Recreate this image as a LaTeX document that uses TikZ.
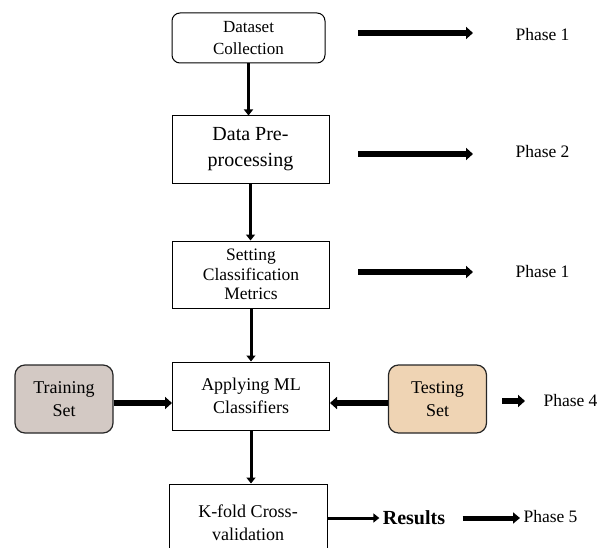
\documentclass[tikz,border=0pt]{standalone}
\usepackage{fontspec}
\setmainfont{Liberation Serif}
\usetikzlibrary{arrows.meta}
\usetikzlibrary{positioning}
\definecolor{trainfill}{RGB}{211,201,196}
\definecolor{testfill}{RGB}{239,212,180}
\tikzset{
  stepbox/.style={draw, line width=1pt, align=center, minimum width=157pt, minimum height=67pt},
  setbox/.style={draw=black!85, line width=1.2pt, rounded corners=10pt, align=center, minimum width=98pt, minimum height=68pt, font=\fontsize{18}{23}\selectfont},
  flow/.style={line width=3pt, -{Triangle[length=6pt,width=9pt]}},
  bigflow/.style={line width=6pt, -{Triangle[length=7pt,width=12pt]}},
  phase/.style={anchor=west, font=\fontsize{17.5}{20}\selectfont}
}
\begin{document}
\begin{tikzpicture}[x=1pt,y=-1pt]
          \useasboundingbox (0,0) rectangle (607,548);

          % process column
          \node[stepbox, rounded corners=8pt, minimum width=153pt, minimum height=50pt, font=\fontsize{17}{22}\selectfont] (collect) at (248.5,38) {Dataset\\Collection};
          \node[stepbox, font=\fontsize{20}{26}\selectfont] (prep) at (250.5,149.5) {Data Pre-\\processing};
          \node[stepbox, font=\fontsize{17.5}{19.5}\selectfont] (metrics) at (251,274.5) {Setting\\Classification\\Metrics};
          \node[stepbox, minimum height=68pt, font=\fontsize{18}{23}\selectfont] (apply) at (251,396) {Applying ML\\Classifiers};
          \node[stepbox, minimum width=158pt, minimum height=78pt, font=\fontsize{18}{23}\selectfont] (kfold) at (248,523) {K-fold Cross-\\validation};

          \draw[flow] (collect.south) -- (collect.south |- prep.north);
          \draw[flow] (prep.south) -- (prep.south |- metrics.north);
          \draw[flow] (metrics.south) -- (metrics.south |- apply.north);
          \draw[flow] (apply.south) -- (apply.south |- kfold.north);

          % data sets
          \node[setbox, fill=trainfill] (train) at (64,399) {Training\\Set};
          \node[setbox, fill=testfill] (test) at (437.5,399) {Testing\\Set};
          \draw[bigflow] ([yshift=-4pt]train.east) -- ([yshift=-4pt]train.east -| apply.west);
          \draw[bigflow] ([yshift=-4pt]test.west) -- ([yshift=-4pt]test.west -| apply.east);

          % phases
          \node[phase] (ph1) at (512,35) {Phase 1};
          \node[phase] (ph2) at (512,152) {Phase 2};
          \node[phase] (ph3) at (512,272) {Phase 1};
          \node[phase] (ph4) at (540,401) {Phase 4};
          \coordinate (s1) at (358,33);
          \coordinate (e1) at (473,33);
          \coordinate (s2) at (358,154);
          \coordinate (e2) at (473,154);
          \coordinate (s3) at (358,272);
          \coordinate (e3) at (473,272);
          \coordinate (s4) at (502,401);
          \coordinate (e4) at (525,401);
          \draw[bigflow] (s1) -- (e1);
          \draw[bigflow] (s2) -- (e2);
          \draw[bigflow] (s3) -- (e3);
          \draw[bigflow] (s4) -- (e4);

          \node[font=\bfseries\fontsize{20}{24}\selectfont] (results) at (414,518) {Results};
          \node[phase] (ph5) at (520,517) {Phase 5};
          \draw[flow] (kfold.east |- results.west) -- (results.west);
          \coordinate (r5) at ([xshift=14pt]results.east);
          \draw[line width=5pt, -{Triangle[length=7pt,width=11pt]}] (r5) -- (r5 -| ph5.west);

    \end{tikzpicture}
\end{document}
